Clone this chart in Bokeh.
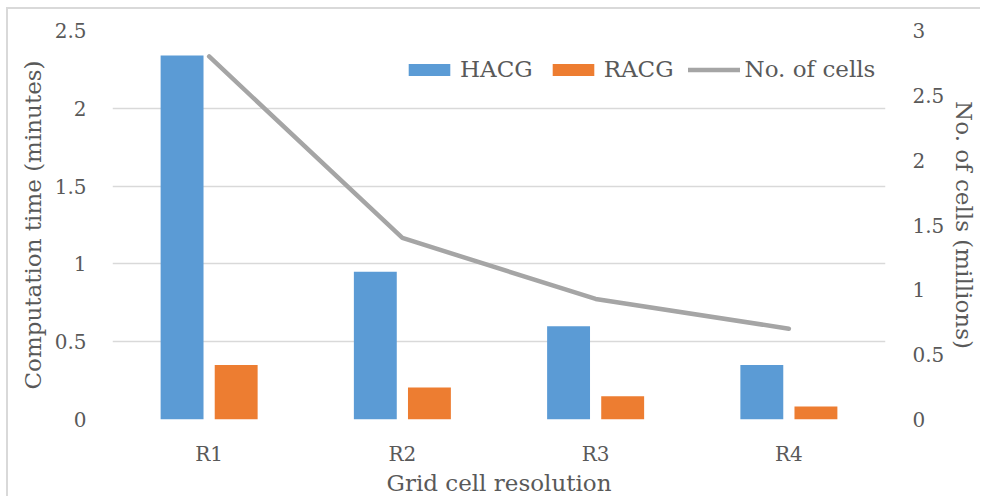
from bokeh.plotting import figure
from bokeh.models import (Range1d, LinearAxis, FixedTicker, FactorRange, Legend, LegendItem,
                          ColumnDataSource)
from bokeh.transform import dodge
from bokeh.embed import file_html
from bokeh.resources import INLINE

categories = ["R1", "R2", "R3", "R4"]
hacg = [2.34, 0.95, 0.60, 0.35]
racg = [0.35, 0.205, 0.15, 0.083]
cells = [2.8, 1.4, 0.93, 0.70]
left_ticks = [0, 0.5, 1, 1.5, 2, 2.5]
right_ticks = [0, 0.5, 1, 1.5, 2, 2.5, 3]

FONT = "DejaVu Serif"
TXT = "#595959"
GRID = "#d9d9d9"

src = ColumnDataSource(dict(cat=categories, hacg=hacg, racg=racg, cells=cells))

p = figure(width=974, height=489, x_range=FactorRange(*categories), y_range=Range1d(0, 2.5),
           output_backend="svg", toolbar_location=None,
           min_border_left=104, min_border_right=97, min_border_top=21, min_border_bottom=78)
p.styles = {"margin-left": "6px", "margin-top": "7px",
            "border-left": "2px solid #d9d9d9", "border-top": "2px solid #d9d9d9"}
p.extra_y_ranges = {"cells": Range1d(0, 3)}
p.outline_line_color = None
p.background_fill_color = "white"
p.border_fill_color = "white"

b1 = p.vbar(x=dodge("cat", -0.14, range=p.x_range), top="hacg", width=0.222, source=src,
            fill_color="#5b9bd5", line_color=None)
b2 = p.vbar(x=dodge("cat", 0.14, range=p.x_range), top="racg", width=0.222, source=src,
            fill_color="#ed7d31", line_color=None)
l1 = p.line(x="cat", y="cells", source=src, y_range_name="cells", line_color="#a5a5a5",
            line_width=4.5, line_cap="round", line_join="round")

# axes
p.yaxis.ticker = FixedTicker(ticks=left_ticks)
p.yaxis.axis_label = "Computation time (minutes)"
p.xaxis.axis_label = "Grid cell resolution"

ax_r = LinearAxis(y_range_name="cells", ticker=FixedTicker(ticks=right_ticks),
                  axis_label="No. of cells (millions)")
p.add_layout(ax_r, "right")

for ax in [p.yaxis[0], ax_r, p.xaxis[0]]:
    ax.axis_line_color = None
    ax.major_tick_line_color = None
    ax.minor_tick_line_color = None
    ax.major_label_text_font = FONT
    ax.major_label_text_font_size = "20px"
    ax.major_label_text_color = TXT
    ax.axis_label_text_font = FONT
    ax.axis_label_text_font_size = "23px"
    ax.axis_label_text_color = TXT
    ax.axis_label_text_font_style = "normal"
    ax.major_label_standoff = 20
    ax.axis_label_standoff = 6

ax_r.major_label_standoff = 21
ax_r.axis_label_standoff = 4
p.xaxis.major_label_standoff = 16
p.xaxis.axis_label_standoff = 1

p.xgrid.grid_line_color = None
p.ygrid.grid_line_color = GRID
p.ygrid.grid_line_width = 1.5

legend = Legend(items=[LegendItem(label="HACG", renderers=[b1]),
                       LegendItem(label="RACG", renderers=[b2]),
                       LegendItem(label="No. of cells", renderers=[l1])],
                orientation="horizontal")
legend.label_text_font = FONT
legend.label_text_font_size = "23px"
legend.label_text_color = TXT
legend.glyph_width = 52
legend.glyph_height = 15
legend.label_standoff = 5
legend.spacing = 14
legend.border_line_color = None
legend.background_fill_alpha = 0
legend.margin = 0
legend.padding = 10
legend.location = (291, 337)
p.add_layout(legend, "center")

open("out.html", "w").write(file_html(p, INLINE))
